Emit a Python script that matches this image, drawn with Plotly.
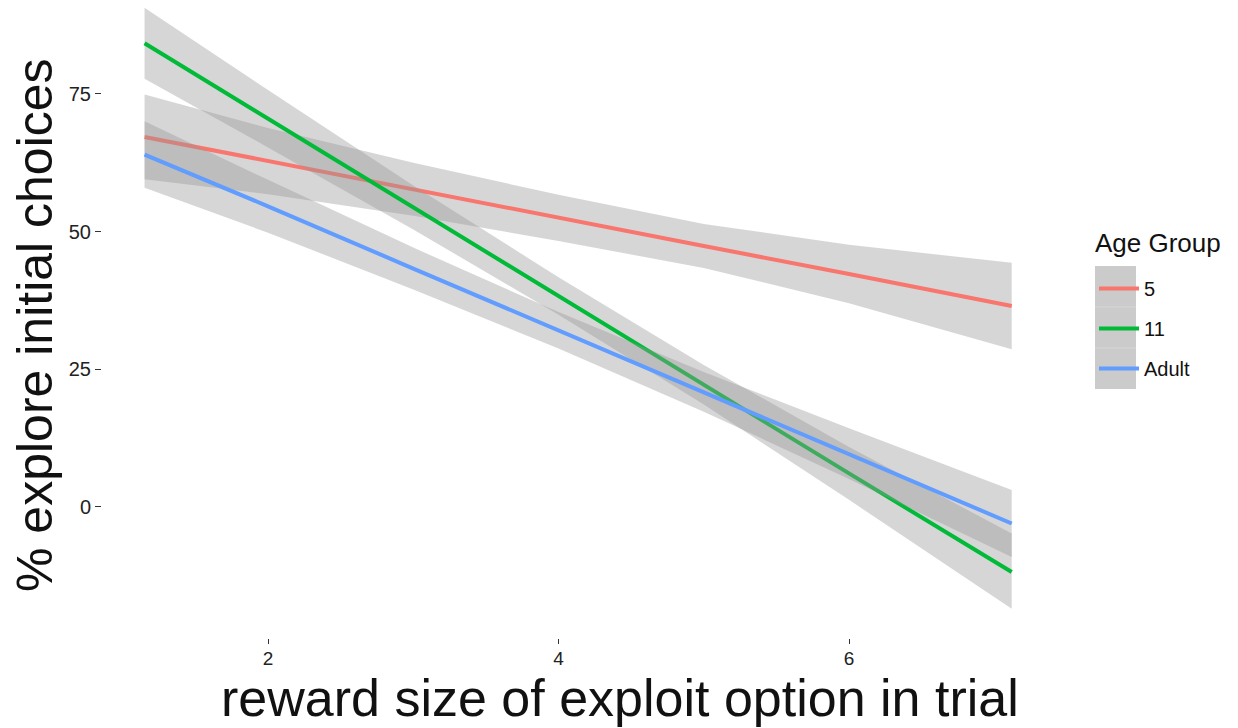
import plotly.graph_objects as go

# ---- data ----
x_pts = [1.15, 2, 3, 4, 5, 6, 7.12]

groups = ["5", "11", "Adult"]

fit_5 = [67.2, 62.8, 57.7, 52.5, 47.4, 42.3, 36.5]
lo_5 = [59.5, 56.8, 52.9, 48.3, 43.4, 37.0, 28.65]
hi_5 = [74.9, 68.8, 62.5, 56.7, 51.4, 47.6, 44.35]

fit_11 = [84.2, 70.5, 54.4, 38.3, 22.2, 6.1, -11.8]
lo_11 = [77.75, 65.3, 50.4, 34.9, 18.6, 1.3, -18.5]
hi_11 = [90.65, 75.7, 58.4, 41.7, 25.8, 10.9, -4.8]

fit_adult = [64.0, 54.6, 43.3, 32.1, 20.9, 9.7, -3.0]
lo_adult = [57.95, 49.8, 39.5, 28.8, 17.3, 5.1, -9.1]
hi_adult = [70.05, 59.4, 47.1, 35.4, 24.5, 14.3, 3.1]

x_ticks = [2, 4, 6]
y_ticks = [0, 25, 50, 75]

colors = ["#F8766D", "#00BA38", "#619CFF"]
ribbon = "rgba(153,153,153,0.4)"

series = [
    (groups[0], fit_5, lo_5, hi_5, colors[0]),
    (groups[1], fit_11, lo_11, hi_11, colors[1]),
    (groups[2], fit_adult, lo_adult, hi_adult, colors[2]),
]

fig = go.Figure()
for name, fit, lo, hi, col in series:
    fig.add_trace(go.Scatter(
        x=x_pts + x_pts[::-1], y=hi + lo[::-1],
        fill="toself", fillcolor=ribbon, mode="none",
        line=dict(width=0), hoverinfo="skip",
        showlegend=False, legendgroup=name))
    fig.add_trace(go.Scatter(
        x=x_pts, y=fit, mode="lines", name=name,
        line=dict(color=col, width=4), legendgroup=name))

# page body has an 8px offset; design in figure pixels
W, H = 1230, 720
L, R, T, B = 94, 183, 0, 90
pw = W - L - R
ph = H - T - B
OFF = 8  # screenshot px = figure px + OFF


def px_x(p):  # p in screenshot pixels
    return (p - OFF - L) / pw


def px_y(p):
    return 1 - (p - OFF - T) / ph


# legend key background
fig.add_shape(type="rect", xref="paper", yref="paper",
              x0=px_x(1095), x1=px_x(1136), y0=px_y(389), y1=px_y(266),
              fillcolor="#CBCBCB", line=dict(width=0), layer="below")
for yy in (307, 348):
    fig.add_shape(type="line", xref="paper", yref="paper",
                  x0=px_x(1095), x1=px_x(1136), y0=px_y(yy), y1=px_y(yy),
                  line=dict(color="#D6D6D6", width=1))

font_family = "Liberation Sans, Arial, sans-serif"

fig.add_annotation(text="Age Group", xref="paper", yref="paper",
                   x=px_x(1093), y=px_y(243), xanchor="left", yanchor="middle",
                   showarrow=False, font=dict(size=26, color="#111"))
fig.add_annotation(text="reward size of exploit option in trial",
                   xref="paper", yref="paper",
                   x=px_x(620), y=px_y(698), xanchor="center", yanchor="middle",
                   showarrow=False, borderpad=0, font=dict(size=52, color="#111"))
fig.add_annotation(text="% explore initial choices",
                   xref="paper", yref="paper", textangle=-90,
                   x=px_x(35), y=px_y(325), xanchor="center", yanchor="middle",
                   showarrow=False, borderpad=0, font=dict(size=50, color="#111"))

fig.update_layout(
    width=W, height=H,
    margin=dict(l=L, r=R, t=T, b=B, autoexpand=False),
    paper_bgcolor="white", plot_bgcolor="white",
    font=dict(family=font_family, color="#1a1a1a"),
    showlegend=True,
    legend=dict(
        x=px_x(1094), y=px_y(269), xanchor="left", yanchor="top",
        bgcolor="rgba(0,0,0,0)",
        font=dict(size=20, color="#111"),
        tracegroupgap=11, itemwidth=40,
    ),
    xaxis=dict(
        range=[0.857, 7.418], tickvals=x_ticks, ticktext=[str(v) for v in x_ticks],
        showgrid=False, zeroline=False, showline=False,
        ticks="outside", ticklen=5, tickwidth=1, tickcolor="#333",
        tickfont=dict(size=19, color="#222"), ticklabelstandoff=-2,
        automargin=False,
    ),
    yaxis=dict(
        range=[-23.79, 90.61], tickvals=y_ticks, ticktext=[str(v) for v in y_ticks],
        showgrid=False, zeroline=False, showline=False,
        ticks="outside", ticklen=6, tickwidth=1, tickcolor="#333",
        tickfont=dict(size=20, color="#222"),
        automargin=False,
    ),
)

fig.write_html("out.html")
